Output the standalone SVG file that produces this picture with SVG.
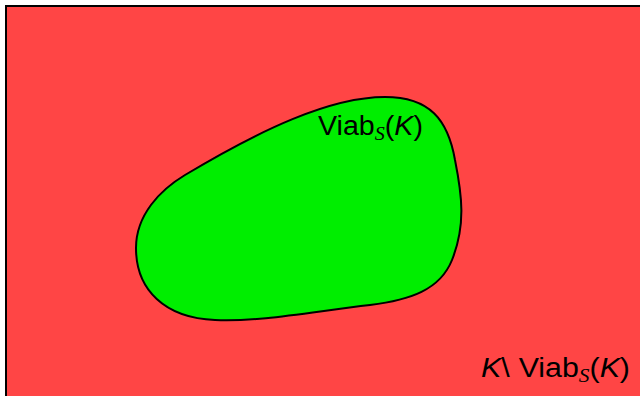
<svg xmlns="http://www.w3.org/2000/svg" width="640" height="396" viewBox="0 0 640 396">
<style>
.lbl{font-family:"Liberation Sans","DejaVu Sans",sans-serif;font-size:27px;fill:#000}
.it{font-style:italic}
.sub{font-family:"Liberation Serif",serif;font-style:italic;font-size:19px}
</style>
<rect width="640" height="396" fill="#ffffff"/>
<g id="outer">
<rect x="6" y="6" width="650" height="410" fill="#ff4545" stroke="#000" stroke-width="2"/>
</g>
<g id="viab">
<path d="M136,248 C136,215 160,190 185,175 C260,130 330,97 385,97 C430,97 448,120 455,160 C462,195 466,225 452,260 C440,290 410,300 370,305 C310,312 260,322 215,320 C165,318 136,290 136,248 Z" fill="#00ee00" stroke="#000" stroke-width="2"/>
<text class="lbl" x="318" y="135" textLength="105" lengthAdjust="spacingAndGlyphs">Viab<tspan class="sub" dy="5">S</tspan><tspan dy="-5">(</tspan><tspan class="it">K</tspan>)</text>
</g>
<g id="complement">
<text class="lbl" x="481" y="377" textLength="149" lengthAdjust="spacingAndGlyphs"><tspan class="it">K</tspan>\<tspan dx="8">Viab</tspan><tspan class="sub" dy="5">S</tspan><tspan dy="-5">(</tspan><tspan class="it">K</tspan>)</text>
</g>
</svg>
